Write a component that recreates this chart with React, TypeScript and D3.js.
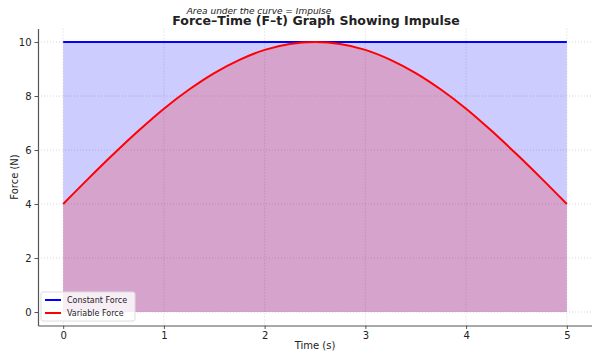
import * as d3 from 'd3';
import { useRef, useEffect } from 'react';

const times = [0, 0.25, 0.5, 0.75, 1, 1.25, 1.5, 1.75, 2, 2.25, 2.5, 2.75, 3, 3.25, 3.5, 3.75, 4, 4.25, 4.5, 4.75, 5];
const variableForce = [4, 4.94, 5.85, 6.72, 7.53, 8.24, 8.85, 9.34, 9.71, 9.93, 10, 9.93, 9.71, 9.34, 8.85, 8.24, 7.53, 6.72, 5.85, 4.94, 4];
const constantForce = times.map(() => 10);
const xTicks = [0, 1, 2, 3, 4, 5];
const yTicks = [0, 2, 4, 6, 8, 10];
const legendItems = [
  { name: 'Constant Force', color: '#0000ff' },
  { name: 'Variable Force', color: '#ff0000' },
];

export default function App() {
  const svgRef = useRef(null);

  useEffect(() => {
    const width = 600;
    const height = 360;
    const left = 38, right = 592, top = 28.5, bottom = 325.5;
    const font = 'DejaVu Sans, sans-serif';

    const svg = d3.select(svgRef.current);
    svg.selectAll('*').remove();
    svg.attr('width', width).attr('height', height).style('display', 'block');

    svg.append('rect').attr('width', width).attr('height', height).attr('fill', '#fff');

    const x = d3.scaleLinear().domain([-0.25, 5.25]).range([left, right]);
    const y = d3.scaleLinear().domain([-0.5, 10.5]).range([bottom, top]);

    // grid
    const grid = svg.append('g').attr('stroke', '#cccccc').attr('stroke-width', 0.8).attr('stroke-dasharray', '1,2');
    grid.selectAll('.gx').data(xTicks).enter().append('line')
      .attr('x1', (d) => x(d)).attr('x2', (d) => x(d)).attr('y1', top).attr('y2', bottom);
    grid.selectAll('.gy').data(yTicks).enter().append('line')
      .attr('x1', left).attr('x2', right).attr('y1', (d) => y(d)).attr('y2', (d) => y(d));

    const data = times.map((t, i) => ({ t, c: constantForce[i], v: variableForce[i] }));

    const constArea = d3.area().x((d) => x(d.t)).y0(y(0)).y1((d) => y(d.c));
    const varArea = d3.area().x((d) => x(d.t)).y0(y(0)).y1((d) => y(d.v)).curve(d3.curveMonotoneX);

    svg.append('path').datum(data).attr('d', constArea).attr('fill', '#0000ff').attr('fill-opacity', 0.2);
    svg.append('path').datum(data).attr('d', varArea).attr('fill', '#ff0000').attr('fill-opacity', 0.2);

    const constLine = d3.line().x((d) => x(d.t)).y((d) => y(d.c));
    const varLine = d3.line().x((d) => x(d.t)).y((d) => y(d.v)).curve(d3.curveMonotoneX);

    svg.append('path').datum(data).attr('d', constLine).attr('fill', 'none').attr('stroke', '#0000ff').attr('stroke-width', 2);
    svg.append('path').datum(data).attr('d', varLine).attr('fill', 'none').attr('stroke', '#ff0000').attr('stroke-width', 2);

    // axes
    const xAxis = svg.append('g').attr('transform', `translate(0,${bottom})`)
      .call(d3.axisBottom(x).tickValues(xTicks).tickFormat(d3.format('d')).tickSize(3.5).tickPadding(3).tickSizeOuter(0));
    const yAxis = svg.append('g').attr('transform', `translate(${left},0)`)
      .call(d3.axisLeft(y).tickValues(yTicks).tickFormat(d3.format('d')).tickSize(3.5).tickPadding(3).tickSizeOuter(0));
    [xAxis, yAxis].forEach((a) => {
      a.select('.domain').attr('stroke', '#555').attr('stroke-width', 1.2);
      a.selectAll('.tick line').attr('stroke', '#555');
      a.selectAll('text').attr('font-family', font).attr('font-size', 10).attr('fill', '#222');
    });

    svg.append('text').attr('x', (left + right) / 2).attr('y', 349).attr('text-anchor', 'middle')
      .attr('font-family', font).attr('font-size', 10).attr('fill', '#222').text('Time (s)');
    svg.append('text').attr('transform', `translate(18,${(top + bottom) / 2}) rotate(-90)`).attr('text-anchor', 'middle')
      .attr('font-family', font).attr('font-size', 10).attr('fill', '#222').text('Force (N)');

    svg.append('text').attr('x', 316).attr('y', 25).attr('text-anchor', 'middle')
      .attr('font-family', font).attr('font-size', 12.5).attr('font-weight', 'bold').attr('fill', '#222')
      .text('Force–Time (F–t) Graph Showing Impulse');
    svg.append('text').attr('x', 259).attr('y', 14).attr('text-anchor', 'middle')
      .attr('font-family', font).attr('font-size', 9).attr('font-style', 'italic').attr('fill', '#222')
      .text('Area under the curve = Impulse');

    // legend
    const lg = svg.append('g').attr('transform', 'translate(41,292)');
    lg.append('rect').attr('width', 94).attr('height', 29).attr('rx', 2)
      .attr('fill', '#fff').attr('fill-opacity', 0.8).attr('stroke', '#ddd');
    const items = lg.selectAll('.item').data(legendItems).enter().append('g')
      .attr('transform', (d, i) => `translate(4,${8 + i * 13})`);
    items.append('line').attr('x1', 0).attr('x2', 16).attr('stroke', (d) => d.color).attr('stroke-width', 2);
    items.append('text').attr('x', 22).attr('y', 3).attr('font-family', font).attr('font-size', 8)
      .attr('fill', '#222').text((d) => d.name);
  }, []);

  return (
    <div style={{ margin: -8 }}>
      <svg ref={svgRef}></svg>
    </div>
  );
}
